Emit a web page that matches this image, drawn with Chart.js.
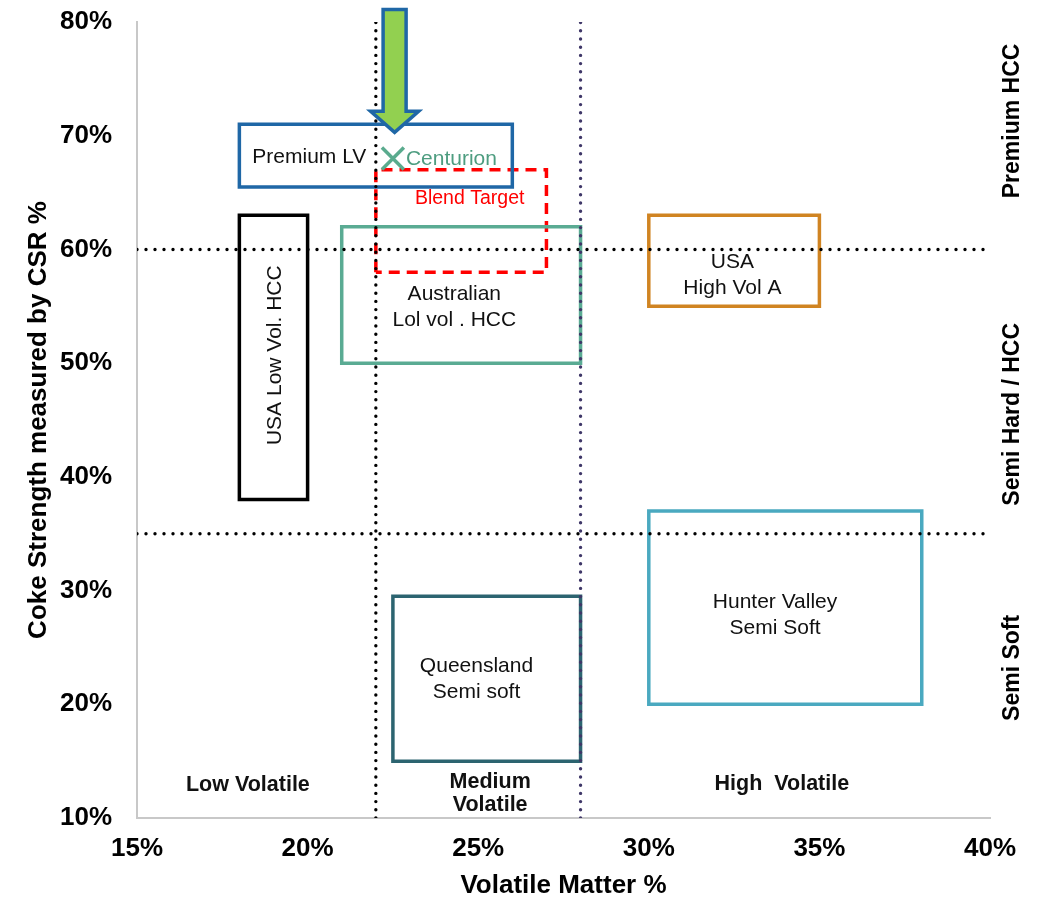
<!DOCTYPE html>
<html>
<head>
<meta charset="utf-8">
<title>Coal quality map</title>
<script src="https://cdn.jsdelivr.net/npm/chart.js@4.4.1/dist/chart.umd.min.js"></script>
<style>
  html, body { margin: 0; padding: 0; background: #ffffff; }
  #wrap { width: 1040px; height: 899px; }
</style>
</head>
<body>
<div id="wrap"><canvas id="c" width="1040" height="899"></canvas></div>
<script>
// Coal families: volatile matter range (x, %) and coke strength CSR range (y, %)
const boxNames   = ['Premium LV', 'USA Low Vol. HCC', 'Australian Lol vol . HCC', 'USA High Vol A', 'Queensland Semi soft', 'Hunter Valley Semi Soft', 'Blend Target'];
const boxVmLow   = [18,   18, 21, 30, 22.5, 30, 22];
const boxVmHigh  = [26,   20, 28, 35, 28,   38, 27];
const boxCsrLow  = [65.5, 38, 50, 55, 15,   20, 58];
const boxCsrHigh = [71,   63, 62, 63, 29.5, 37, 67];
const boxColors  = ['#1f67a6', '#000000', '#5aab93', '#d08422', '#2c6470', '#4aa9c0', '#ff0000'];

// Class boundaries
const vmBoundaries  = [22, 28];   // low / medium / high volatile
const csrBoundaries = [60, 35];   // premium / semi hard / semi soft

// Centurion coal
const centurionVm  = [22.5];
const centurionCsr = [68];

// Arrow pointing at Centurion: x, start y, tip y
const arrowVm  = [22.55];
const arrowCsr = [81.1, 70.3];

// Axis ticks
const xTicks = [15, 20, 25, 30, 35, 40];
const yTicks = [10, 20, 30, 40, 50, 60, 70, 80];

// Text placed on the plot
const noteText  = [['Premium LV'], ['Blend Target'], ['Australian', 'Lol vol . HCC'], ['USA', 'High Vol A'], ['Queensland', 'Semi soft'], ['Hunter Valley', 'Semi Soft'], ['Low Volatile'], ['Medium', 'Volatile'], ['High  Volatile']];
const noteVm    = [20.05, 24.75, 24.3, 32.45, 24.95, 33.7, 18.25, 25.35, 33.9];
const noteCsr   = [68.1, 64.5, 54.9, 57.7, 22.2, 27.85, 12.9, 12.15, 13.0];
const rotNoteText = ['USA Low Vol. HCC'];
const rotNoteVm   = [19.05];
const rotNoteCsr  = [50.7];
const classNames  = ['Premium HCC', 'Semi Hard / HCC', 'Semi Soft'];
const classCsr    = [71.3, 45.5, 23.2];

const FONT = '"Liberation Sans", Arial, sans-serif';

// closed outline; the path runs one side past the start so every corner gets a join
function rectPath(i) {
  return [
    {x: boxVmLow[i],  y: boxCsrLow[i]},
    {x: boxVmLow[i],  y: boxCsrHigh[i]},
    {x: boxVmHigh[i], y: boxCsrHigh[i]},
    {x: boxVmHigh[i], y: boxCsrLow[i]},
    {x: boxVmLow[i],  y: boxCsrLow[i]},
    {x: boxVmLow[i],  y: boxCsrHigh[i]}
  ];
}

const datasets = [];
boxNames.forEach((name, i) => {
  const dashed = name === 'Blend Target';
  datasets.push({
    label: name,
    data: dashed ? rectPath(i).slice(0, 5) : rectPath(i),
    showLine: true,
    borderColor: boxColors[i],
    borderWidth: 3.5,
    borderDash: dashed ? [11, 7] : [],
    borderJoinStyle: 'miter',
    pointRadius: 0,
    fill: false,
    tension: 0,
    order: 2
  });
});
vmBoundaries.forEach((v, i) => {
  datasets.push({
    label: 'vm' + v,
    data: [{x: v, y: yTicks[0]}, {x: v, y: yTicks[yTicks.length - 1]}],
    showLine: true,
    borderColor: i === 1 ? '#3f3768' : '#000000',
    borderWidth: 3.4,
    borderDash: [0, 8.2],
    borderCapStyle: 'round',
    pointRadius: 0,
    order: 1
  });
});
csrBoundaries.forEach(v => {
  datasets.push({
    label: 'csr' + v,
    data: [{x: xTicks[0], y: v}, {x: xTicks[xTicks.length - 1], y: v}],
    showLine: true,
    borderColor: '#000000',
    borderWidth: 3.4,
    borderDash: [0, 9],
    borderCapStyle: 'round',
    pointRadius: 0,
    order: 1
  });
});
datasets.push({
  label: 'Centurion',
  data: centurionVm.map((v, i) => ({x: v, y: centurionCsr[i]})),
  showLine: false,
  pointStyle: 'crossRot',
  pointRadius: 15.5,
  pointBorderWidth: 3.5,
  pointBorderColor: '#5aab8e',
  borderColor: '#5aab8e',
  order: 0
});

const notesPlugin = {
  id: 'notes',
  afterDatasetsDraw(chart) {
    const ctx = chart.ctx;
    const xs = chart.scales.x, ys = chart.scales.y;
    ctx.save();
    ctx.textAlign = 'center';
    ctx.textBaseline = 'middle';
    noteText.forEach((lines, i) => {
      const region = i >= 6;
      const blend = lines[0] === 'Blend Target';
      ctx.font = region ? 'bold 21.5px ' + FONT : (blend ? '19.5px ' + FONT : '21px ' + FONT);
      ctx.fillStyle = blend ? '#ff0000' : '#111111';
      const cx = xs.getPixelForValue(noteVm[i]);
      const cy = ys.getPixelForValue(noteCsr[i]);
      const lh = region ? 23 : 26;
      lines.forEach((t, k) => {
        ctx.fillText(t, cx, cy + (k - (lines.length - 1) / 2) * lh);
      });
    });
    // Centurion label
    ctx.textAlign = 'left';
    ctx.font = '21px ' + FONT;
    ctx.fillStyle = '#4e9d80';
    ctx.fillText('Centurion', xs.getPixelForValue(centurionVm[0]) + 13, ys.getPixelForValue(centurionCsr[0]) + 1);
    // rotated box label
    ctx.font = '21px ' + FONT;
    ctx.fillStyle = '#111111';
    rotNoteText.forEach((t, i) => {
      ctx.save();
      ctx.translate(xs.getPixelForValue(rotNoteVm[i]), ys.getPixelForValue(rotNoteCsr[i]));
      ctx.rotate(-Math.PI / 2);
      ctx.textAlign = 'center';
      ctx.fillText(t, 0, 0);
      ctx.restore();
    });
    // class names on the right
    ctx.font = 'bold 23px ' + FONT;
    ctx.fillStyle = '#000000';
    classNames.forEach((t, i) => {
      ctx.save();
      ctx.translate(xs.right + 23, ys.getPixelForValue(classCsr[i]));
      ctx.rotate(-Math.PI / 2);
      ctx.textAlign = 'center';
      ctx.fillText(t, 0, 0);
      ctx.restore();
    });
    // arrow
    const ax = xs.getPixelForValue(arrowVm[0]);
    const y0 = ys.getPixelForValue(arrowCsr[0]);
    const y1 = ys.getPixelForValue(arrowCsr[1]);
    const sw = 11.5, hw = 24, hl = 21;
    ctx.beginPath();
    ctx.moveTo(ax - sw, y0);
    ctx.lineTo(ax + sw, y0);
    ctx.lineTo(ax + sw, y1 - hl);
    ctx.lineTo(ax + hw, y1 - hl);
    ctx.lineTo(ax, y1);
    ctx.lineTo(ax - hw, y1 - hl);
    ctx.lineTo(ax - sw, y1 - hl);
    ctx.closePath();
    ctx.fillStyle = '#92d050';
    ctx.fill();
    ctx.lineWidth = 3.5;
    ctx.lineJoin = 'miter';
    ctx.strokeStyle = '#1f67a6';
    ctx.stroke();
    ctx.restore();
  }
};

new Chart(document.getElementById('c'), {
  type: 'scatter',
  data: { datasets },
  options: {
    responsive: false,
    animation: false,
    layout: { padding: { left: 0, right: 50, top: 22, bottom: 0 } },
    plugins: { legend: { display: false }, tooltip: { enabled: false } },
    scales: {
      x: {
        type: 'linear',
        min: xTicks[0], max: xTicks[xTicks.length - 1],
        afterBuildTicks: s => { s.ticks = xTicks.map(v => ({value: v})); },
        afterFit: s => { s.height = 81; },
        grid: { display: false, drawTicks: false },
        border: { display: true, color: '#c8c8c8', width: 2 },
        ticks: { padding: 15, color: '#000000', font: { family: FONT, size: 26, weight: 'bold' }, callback: v => v + '%', maxRotation: 0 },
        title: { display: true, text: 'Volatile Matter %', color: '#000000', padding: 0, font: { family: FONT, size: 26, weight: 'bold', lineHeight: 1 } }
      },
      y: {
        type: 'linear',
        min: yTicks[0], max: yTicks[yTicks.length - 1],
        afterBuildTicks: s => { s.ticks = yTicks.map(v => ({value: v})); },
        afterFit: s => { s.width = 137; s.paddingTop = 0; s.paddingBottom = 0; },
        grid: { display: false, drawTicks: false },
        border: { display: true, color: '#c8c8c8', width: 2 },
        ticks: { padding: 25, color: '#000000', font: { family: FONT, size: 26, weight: 'bold' }, callback: v => v + '%' },
        title: { display: true, text: 'Coke Strength measured by CSR %', color: '#000000', padding: { top: 26, bottom: 0 }, font: { family: FONT, size: 26, weight: 'bold', lineHeight: 1 } }
      }
    }
  },
  plugins: [notesPlugin]
});
</script>
</body>
</html>
